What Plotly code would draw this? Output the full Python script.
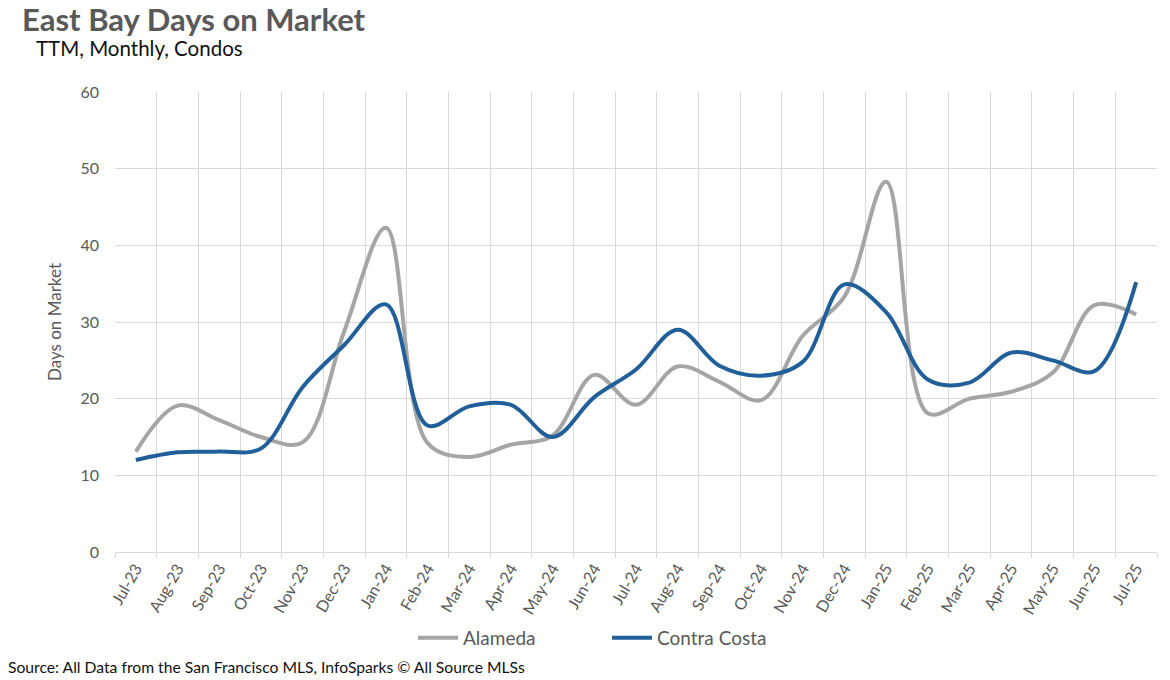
import plotly.graph_objects as go

months = ["Jul-23", "Aug-23", "Sep-23", "Oct-23", "Nov-23", "Dec-23", "Jan-24", "Feb-24",
          "Mar-24", "Apr-24", "May-24", "Jun-24", "Jul-24", "Aug-24", "Sep-24", "Oct-24",
          "Nov-24", "Dec-24", "Jan-25", "Feb-25", "Mar-25", "Apr-25", "May-25", "Jun-25", "Jul-25"]
alameda = [13.1, 19.1, 17.2, 15.0, 14.3, 28.8, 42.3, 14.2, 12.4, 14.0, 15.2, 23.1, 19.2, 24.2,
           22.2, 19.8, 28.2, 33.3, 48.3, 18.1, 20.0, 20.9, 23.4, 32.2, 31.0]
contra_costa = [12.0, 13.0, 13.1, 13.5, 21.5, 27.0, 32.3, 16.5, 19.0, 19.2, 15.0, 20.2, 23.8, 29.0,
                24.3, 23.0, 24.8, 34.9, 31.3, 22.5, 22.1, 26.0, 25.0, 23.6, 35.2]

W, H = 1170, 680
L, R, T, B = 115, 13, 92, 128
PW, PH = W - L - R, H - T - B

def px(x):
    return (x - L) / PW

def py(y):
    return (H - B - y) / PH

fig = go.Figure()
fig.add_trace(go.Scatter(x=months, y=alameda, name="Alameda", mode="lines",
                         line=dict(color="#A5A5A5", width=4, shape="spline", smoothing=1.0)))
fig.add_trace(go.Scatter(x=months, y=contra_costa, name="Contra Costa", mode="lines",
                         line=dict(color="#215F9A", width=4, shape="spline", smoothing=1.0)))

font = "Lato, 'Open Sans', sans-serif"
fig.update_layout(
    width=W, height=H,
    margin=dict(l=L, r=R, t=T, b=B, autoexpand=False),
    paper_bgcolor="white", plot_bgcolor="white",
    font=dict(family=font, color="#595959", size=15),
    showlegend=True,
    legend=dict(orientation="h", x=px(607), xanchor="center", y=py(638), yanchor="middle",
                font=dict(size=19, color="#595959"), entrywidth=139, itemwidth=40),
    xaxis=dict(type="category", range=[-0.5, len(months) - 0.5], tickson="boundaries",
               showgrid=True, gridcolor="#D9D9D9", gridwidth=1,
               showline=True, linecolor="#D9D9D9", linewidth=1,
               ticks="outside", ticklen=5, tickcolor="#D9D9D9",
               tickangle=-60, tickfont=dict(size=16, color="#595959"), automargin=False),
    yaxis=dict(range=[0, 60], dtick=10, showgrid=True, gridcolor="#D9D9D9", gridwidth=1,
               zeroline=False, showline=False, ticks="", ticklabelstandoff=15,
               tickfont=dict(size=16, color="#595959"), automargin=False,
               title=dict(text="Days on Market", font=dict(size=17, color="#595959"), standoff=14)),
    annotations=[
        dict(text="<b>East Bay Days on Market</b>", xref="paper", yref="paper",
             x=px(20), y=py(19), xanchor="left", yanchor="middle", showarrow=False,
             font=dict(size=31, color="#595959", family=font)),
        dict(text="TTM, Monthly, Condos", xref="paper", yref="paper",
             x=px(34), y=py(48), xanchor="left", yanchor="middle", showarrow=False,
             font=dict(size=20.5, color="#111111", family=font)),
        dict(text="Source: All Data from the San Francisco MLS, InfoSparks © All Source MLSs",
             xref="paper", yref="paper", x=px(6), y=py(667), xanchor="left", yanchor="middle",
             showarrow=False, font=dict(size=15.7, color="#111111", family=font)),
    ],
)

# remove the browser's default 8px body margin so the figure sits at the page origin
fig.write_html("out.html", config={"displayModeBar": False},
               post_script="document.body.style.margin='0px';")
